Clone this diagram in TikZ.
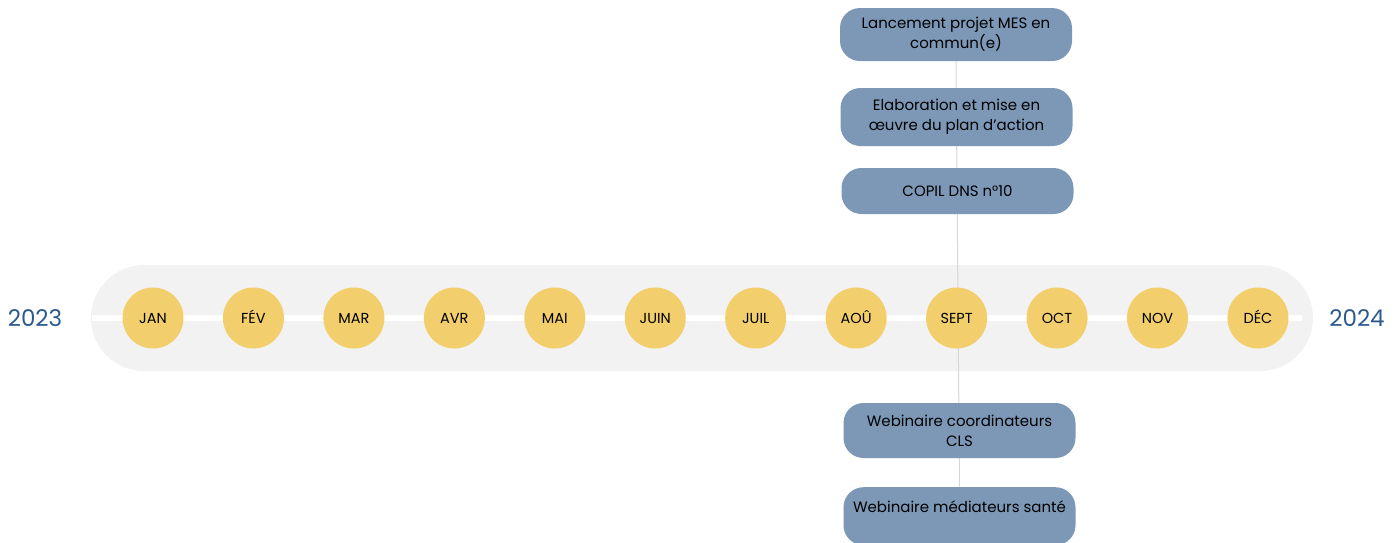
\documentclass[tikz,border=0pt]{standalone}
\usepackage{fontspec}
\setmainfont{Poppins}
\usetikzlibrary{backgrounds}

\definecolor{pillgrey}{RGB}{242,242,242}
\definecolor{monthyellow}{RGB}{242,207,108}
\definecolor{eventblue}{RGB}{124,152,182}
\definecolor{yearblue}{RGB}{44,90,142}
\definecolor{linkgrey}{RGB}{215,215,215}

\begin{document}
\begin{tikzpicture}[
  x=1pt, y=-1pt,
  month/.style={circle, fill=monthyellow, minimum size=61pt, inner sep=0pt,
    text height=10pt, text depth=0pt,
    font=\fontsize{14.5}{16}\selectfont, text=black},
  event/.style={fill=eventblue, rounded corners=20pt, minimum width=232pt,
    align=center, inner sep=2pt, font=\fontsize{15}{20}\selectfont, text=black},
  year/.style={font=\fontsize{23}{26}\selectfont, text=yearblue},
  link/.style={linkgrey, line width=1pt}
]
  \useasboundingbox (0,0) rectangle (1397,542);

  %% ============================================ the months on the band
  \foreach \m [count=\i from 0] in {JAN,FÉV,MAR,AVR,MAI,JUIN,JUIL,AOÛ,SEPT,OCT,NOV,DÉC}
    \node[month] (m\i) at (153+100.45*\i,318) {\m};

  \node[year] (y23) at (35,318) {2023};
  \node[year] (y24) at (1357,318) {2024};

  %% ---------------------------------------------------- the events, above
  \node[event, minimum height=53pt] (ev1) at (956,34.5) {Lancement projet MES en\\commun(e)};
  \node[event, minimum height=58pt] (ev2) at (956.5,117) {Elaboration et mise en\\\oe uvre du plan d'action};
  \node[event, minimum height=46pt] (ev3) at (957.5,191) {COPIL DNS n°10};

  %% ---------------------------------------------------- the events, below
  \node[event, minimum height=55pt] (ev4) at (959.5,430.5) {Webinaire coordinateurs\\CLS};
  \node[event, minimum height=58pt, anchor=north] (ev5) at (959.5,487) {Webinaire médiateurs santé\\\mbox{}};

  %% ============================================ the band and the thread
  \begin{pgfonlayer}{background}
    \fill[pillgrey, rounded corners=53pt] (91,265) rectangle (1313,371);
    \draw[white, line width=6pt] (92,318) -- (1302,318);
    \draw[link] (ev1.south) -- (ev5.north);
  \end{pgfonlayer}

\end{tikzpicture}
\end{document}
